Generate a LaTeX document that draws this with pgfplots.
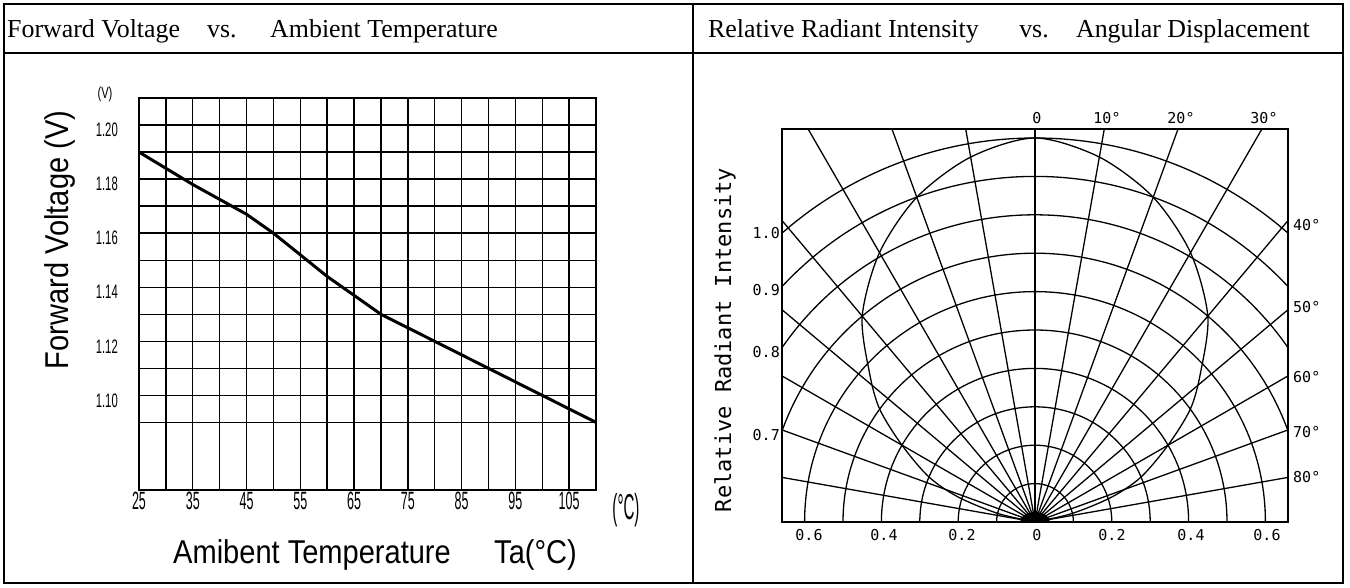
\documentclass[border=0pt]{standalone}
\usepackage{pgfplots}
\pgfplotsset{compat=1.18}
\usepackage{fontspec}
\usepackage{graphicx}
\setmainfont{Liberation Serif}
\newfontfamily\lsans{Liberation Sans}
\newfontfamily\dmono{DejaVu Sans Mono}

\newcommand{\cadx}[1]{\scalebox{0.5}[1]{\lsans\fontsize{25}{25}\selectfont #1}}
\newcommand{\cady}[1]{\scalebox{0.58}[1]{\lsans\fontsize{19.5}{19.5}\selectfont #1}}
\newcommand{\rlab}[1]{{\dmono\fontsize{15}{15}\selectfont #1}}

\begin{document}
\begin{tikzpicture}
\useasboundingbox (0pt,0pt) rectangle (1350pt,-587pt);
% table frame
\draw[line width=2.5pt] (4pt,-4pt) rectangle (1343pt,-583pt);
\draw[line width=2pt] (4pt,-53pt) -- (1343pt,-53pt);
\draw[line width=2pt] (693pt,-4pt) -- (693pt,-583pt);
% headers
\begin{scope}[every node/.style={inner sep=0pt, font=\fontsize{25.9}{30}\selectfont}]
\node[anchor=base west] at (7pt,-37pt) {Forward Voltage};
\node[anchor=base west] at (207pt,-37pt) {vs.};
\node[anchor=base west] at (270pt,-37pt) {Ambient Temperature};
\node[anchor=base west] at (708pt,-37pt) {Relative Radiant Intensity};
\node[anchor=base] at (1034pt,-37pt) {vs.};
\node[anchor=base east] at (1310pt,-37pt) {Angular Displacement};
\end{scope}

% left chart
\begin{axis}[at={(139pt,-490pt)}, anchor=south west, scale only axis,
  width=457pt, height=392pt,
  xmin=25, xmax=110, ymin=1.065, ymax=1.21,
  /pgf/number format/assume math mode=true,
  xtick={25,35,45,55,65,75,85,95,105}, minor xtick={30,40,50,60,70,80,90,100,110},
  ytick={1.10,1.12,1.14,1.16,1.18,1.20}, minor ytick={1.09,1.11,1.13,1.15,1.17,1.19,1.21},
  grid=both,
  major grid style={black, line width=1.4pt},
  minor grid style={black, line width=1.4pt},
  axis line style={black, line width=1.4pt},
  major tick length=0pt, minor tick length=0pt,
  xticklabel={\cadx{\pgfmathprintnumber{\tick}}},
  yticklabel={\cady{\pgfmathprintnumber[fixed,fixed zerofill,precision=2]{\tick}}},
  xticklabel style={anchor=north, inner sep=0pt, yshift=-2pt},
  yticklabel style={anchor=east, inner sep=0pt, xshift=-21pt, yshift=-5pt},
]
\addplot[black, line width=3pt] coordinates {
(25,1.19) (35,1.178) (45,1.167) (50,1.16) (55,1.152) (60,1.144) (65,1.137)
(70,1.13) (75,1.125) (80,1.12) (90,1.11) (100,1.10) (110,1.09)};
\end{axis}
\node[inner sep=0pt] at (105pt,-94pt) {\scalebox{0.7}[1]{\lsans\fontsize{16}{16}\selectfont (V)}};
\node[inner sep=0pt] at (626pt,-510pt) {\scalebox{0.42}[1]{\lsans\fontsize{36}{36}\selectfont (°C)}};
\node[inner sep=0pt, anchor=base west] at (173pt,-563pt) {\scalebox{0.88}[1]{\lsans\fontsize{33}{33}\selectfont Amibent Temperature}};
\node[inner sep=0pt, anchor=base east] at (577pt,-563pt) {\scalebox{0.88}[1]{\lsans\fontsize{33}{33}\selectfont Ta(°C)}};
\node[inner sep=0pt, anchor=base, rotate=90] at (68pt,-240pt) {\scalebox{0.88}[1]{\lsans\fontsize{33}{33}\selectfont Forward Voltage (V)}};

% right chart: polar grid
\begin{scope}
\clip (782pt,-522pt) rectangle (1288pt,-129pt);
\foreach \rr in {1,...,10} \draw[line width=1.3pt] (1035pt,-522pt) circle[radius=\rr*38.4pt];
\foreach \aa in {10,20,...,170} \draw[line width=1.3pt] (1035pt,-522pt) -- ++(\aa:700pt);
\fill (1035pt,-522pt) ellipse[x radius=15pt, y radius=10pt];
\end{scope}
\begin{axis}[at={(782pt,-522pt)}, anchor=south west, scale only axis,
  width=506pt, height=393pt,
  xmin=-0.6589, xmax=0.6589, ymin=0, ymax=1.0234,
  axis line style={black, line width=1.4pt}, ticks=none]
\addplot[black, line width=1.3pt, smooth] coordinates {
(-0.0000,0.0000) (-0.0974,0.0225) (-0.1997,0.0649) (-0.2762,0.1172) (-0.3464,0.2000)
(-0.4045,0.2939) (-0.4310,0.3881) (-0.4500,0.5362) (-0.4050,0.7015) (-0.3078,0.8457)
(-0.1676,0.9503) (0,1.0) (0.1676,0.9503) (0.3078,0.8457) (0.4050,0.7015)
(0.4500,0.5362) (0.4310,0.3881) (0.4045,0.2939) (0.3464,0.2000) (0.2762,0.1172)
(0.1997,0.0649) (0.0974,0.0225) (0.0000,0.0000)};
\end{axis}
% right labels
\node[inner sep=0pt] at (1037pt,-118pt) {\rlab{0}};
\node[inner sep=0pt] at (1107pt,-118pt) {\rlab{10°}};
\node[inner sep=0pt] at (1181pt,-118pt) {\rlab{20°}};
\node[inner sep=0pt] at (1264pt,-118pt) {\rlab{30°}};
\node[inner sep=0pt, anchor=west] at (1293pt,-225pt) {\rlab{40°}};
\node[inner sep=0pt, anchor=west] at (1293pt,-307pt) {\rlab{50°}};
\node[inner sep=0pt, anchor=west] at (1293pt,-377pt) {\rlab{60°}};
\node[inner sep=0pt, anchor=west] at (1293pt,-432pt) {\rlab{70°}};
\node[inner sep=0pt, anchor=west] at (1293pt,-477pt) {\rlab{80°}};
\node[inner sep=0pt, anchor=east] at (780pt,-233pt) {\rlab{1.0}};
\node[inner sep=0pt, anchor=east] at (780pt,-290pt) {\rlab{0.9}};
\node[inner sep=0pt, anchor=east] at (780pt,-352pt) {\rlab{0.8}};
\node[inner sep=0pt, anchor=east] at (780pt,-435pt) {\rlab{0.7}};
\node[inner sep=0pt] at (809pt,-535pt) {\rlab{0.6}};
\node[inner sep=0pt] at (884pt,-535pt) {\rlab{0.4}};
\node[inner sep=0pt] at (962pt,-535pt) {\rlab{0.2}};
\node[inner sep=0pt] at (1037pt,-535pt) {\rlab{0}};
\node[inner sep=0pt] at (1112pt,-535pt) {\rlab{0.2}};
\node[inner sep=0pt] at (1191pt,-535pt) {\rlab{0.4}};
\node[inner sep=0pt] at (1267pt,-535pt) {\rlab{0.6}};
\node[inner sep=0pt, rotate=90] at (725pt,-340pt) {{\dmono\fontsize{22}{22}\selectfont Relative Radiant Intensity}};
\end{tikzpicture}
\end{document}
